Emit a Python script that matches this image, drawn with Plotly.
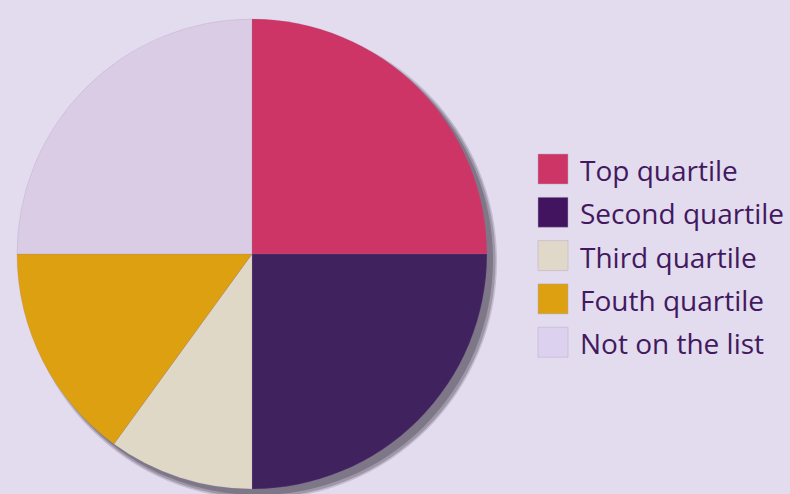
import plotly.graph_objects as go

labels = ["Top quartile", "Second quartile", "Third quartile", "Fouth quartile", "Not on the list"]
values = [25, 25, 10, 15, 25]
colors = ["#cc3566", "#40225f", "#e0d8c7", "#dca010", "#d9cce4"]
swatch_colors = ["#cc3566", "#42145f", "#e0d8c8", "#dca010", "#ddd1f0"]

W, H = 790, 494
BG = "#e3dbee"
TEXT = "#42195e"

cx, cy, r = 252, 254, 235


def px_x(v):
    return v / W


def px_y(v):
    return 1 - v / H


fig = go.Figure()

# drop shadow (decorative circles below the pie)
for dx, dy, rr, col, op in [(7, 7, r + 3, "#8a8494", 0.35),
                            (7, 7, r + 1.5, "#847e8e", 0.6),
                            (6, 6, r, "#7d7788", 1.0)]:
    fig.add_shape(type="circle", xref="paper", yref="paper", layer="below",
                  x0=px_x(cx + dx - rr), x1=px_x(cx + dx + rr),
                  y0=px_y(cy + dy + rr), y1=px_y(cy + dy - rr),
                  fillcolor=col, opacity=op, line=dict(width=0))

fig.add_trace(go.Pie(
    labels=labels, values=values, sort=False, direction="clockwise", rotation=0,
    marker=dict(colors=colors, line=dict(width=0.5, color="rgba(150,120,160,0.35)")),
    textinfo="none", showlegend=False,
    domain=dict(x=[px_x(cx - r), px_x(cx + r)], y=[px_y(cy + r), px_y(cy - r)]),
))

# manual legend
row0, step = 169, 43.3
sw = 30
for i, (lab, c) in enumerate(zip(labels, swatch_colors)):
    yc = row0 + i * step
    fig.add_shape(type="rect", xref="paper", yref="paper",
                  x0=px_x(538), x1=px_x(538 + sw),
                  y0=px_y(yc + sw / 2), y1=px_y(yc - sw / 2),
                  fillcolor=c, line=dict(width=0.6, color="rgba(180,170,190,0.8)"))
    fig.add_annotation(text=lab, xref="paper", yref="paper",
                       x=px_x(578), y=px_y(yc + 1), xanchor="left", yanchor="middle",
                       showarrow=False, font=dict(family="Open Sans", size=28, color=TEXT))

fig.update_layout(
    width=W, height=H, margin=dict(l=0, r=0, t=0, b=0),
    paper_bgcolor=BG, plot_bgcolor=BG, showlegend=False,
)
fig.write_html("out.html")
